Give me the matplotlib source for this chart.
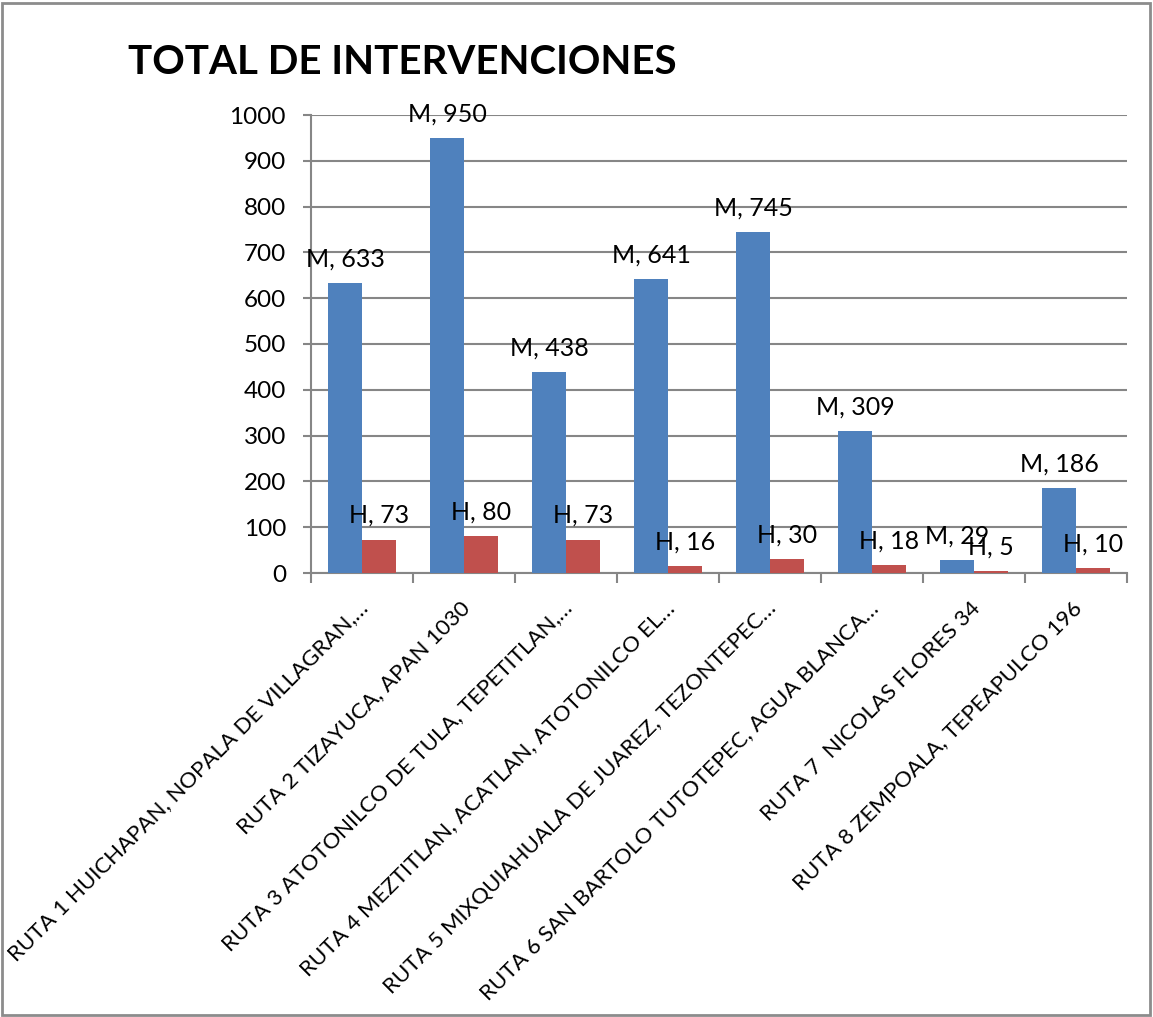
import numpy as np
import matplotlib
matplotlib.use("Agg")
import matplotlib.pyplot as plt
from matplotlib.patches import Rectangle
from matplotlib.transforms import ScaledTranslation

plt.rcParams['font.family'] = ['Lato', 'DejaVu Sans']

rutas = ["RUTA 1 HUICHAPAN, NOPALA DE VILLAGRAN,…",
         "RUTA 2 TIZAYUCA, APAN 1030",
         "RUTA 3 ATOTONILCO DE TULA, TEPETITLAN,…",
         "RUTA 4 MEZTITLAN, ACATLAN, ATOTONILCO EL…",
         "RUTA 5 MIXQUIAHUALA DE JUAREZ, TEZONTEPEC…",
         "RUTA 6 SAN BARTOLO TUTOTEPEC, AGUA BLANCA…",
         "RUTA 7  NICOLAS FLORES 34",
         "RUTA 8 ZEMPOALA, TEPEAPULCO 196"]
mujeres = [633, 950, 438, 641, 745, 309, 29, 186]
hombres = [73, 80, 73, 16, 30, 18, 5, 10]
y_ticks = list(range(0, 1001, 100))

blue = "#4F81BD"
red = "#C0504D"
grey = "#868686"

fig = plt.figure(figsize=(11.53, 10.17), dpi=100)
ax = fig.add_axes([311 / 1153, 1 - 573 / 1017, 816 / 1153, 458 / 1017])

x = np.arange(len(rutas)) + 0.5
w = 1 / 3
bars_m = ax.bar(x - w / 2, mujeres, w, color=blue, zorder=3)
bars_h = ax.bar(x + w / 2, hombres, w, color=red, zorder=3)
ax.bar_label(bars_m, labels=[f"M, {v}" for v in mujeres], padding=9, fontsize=18)
ax.bar_label(bars_h, labels=[f"H, {v}" for v in hombres], padding=9, fontsize=18)

ax.set_xlim(0, len(rutas))
ax.set_ylim(0, 1000)
ax.set_yticks(y_ticks)
ax.yaxis.grid(True, color=grey, linewidth=1.5, zorder=0)
ax.set_axisbelow(True)

for side in ["top", "right"]:
    ax.spines[side].set_visible(False)
for side in ["left", "bottom"]:
    ax.spines[side].set_color(grey)
    ax.spines[side].set_linewidth(1.5)

ax.tick_params(axis="y", length=6, width=1.5, color=grey, pad=12, labelsize=17.5)
ax.set_xticks(np.arange(len(rutas) + 1), minor=True)
ax.tick_params(axis="x", which="minor", length=7, width=1.5, color=grey)
ax.set_xticks(x, labels=rutas)
ax.tick_params(axis="x", which="major", length=0, pad=23, labelsize=16)
shift = ScaledTranslation(3 / 100, 0, fig.dpi_scale_trans)
for lbl in ax.get_xticklabels():
    lbl.set_rotation(45)
    lbl.set_ha("right")
    lbl.set_va("center")
    lbl.set_rotation_mode("anchor")
    lbl.set_transform(lbl.get_transform() + shift)

fig.text(128 / 1153, 1 - 62 / 1017, "TOTAL DE INTERVENCIONES",
         fontsize=29, fontweight="bold", va="center", ha="left")

fig.patches.append(Rectangle((2 / 1153, 2 / 1017), 1148 / 1153, 1012 / 1017,
                             transform=fig.transFigure, fill=False,
                             edgecolor="#8C8C8C", linewidth=2))

fig.savefig("out.png", dpi=100)
